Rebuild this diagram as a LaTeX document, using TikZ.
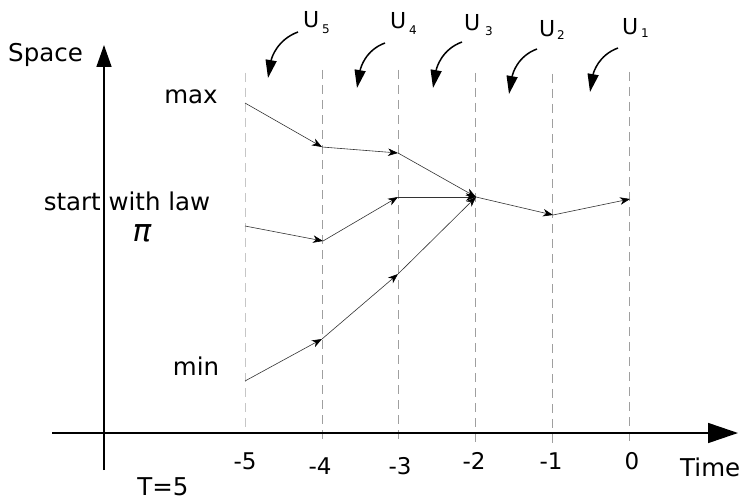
\documentclass[tikz,border=0pt]{standalone}
\usepackage{fontspec}
\setmainfont{DejaVu Sans}
\usetikzlibrary{arrows.meta}
\begin{document}
\begin{tikzpicture}[x=1pt,y=-1pt,
  lbl/.style={inner sep=0pt,anchor=base,font=\fontsize{24.5}{28}\selectfont},
  ulbl/.style={inner sep=0pt,anchor=base west,font=\fontsize{22}{26}\selectfont},
  usub/.style={inner sep=0pt,anchor=base west,font=\fontsize{12}{14}\selectfont},
  axis/.style={line width=1.6pt,black},
  guide/.style={gray!75,line width=0.8pt,dash pattern=on 9pt off 6pt},
  seg/.style={gray!40!black,line width=0.6pt,-{Stealth[length=10pt,width=7.5pt,inset=3pt,black]}},
  curvarrow/.style={line width=1.5pt,-{Triangle[length=18pt,width=11pt]}}]
\useasboundingbox (0,0) rectangle (743,500);
% guides
\foreach \n/\x/\t/\b in {g5/245/73/432,g4/322/70/444,g3/398/70/444,g2/475/73/444,g1/552/74/444,g0/629/72/444}{
  \coordinate (\n t) at (\x,\t);
  \coordinate (\n b) at (\x,\b);
  \draw[guide] (\n t) -- (\n b);
}
\draw[guide,gray!45] (g5t) -- (g5b);
% axes
\coordinate (vb) at (104,470);
\coordinate (vt) at (104,45);
\coordinate (hl) at (52,433);
\coordinate (hr) at (738,433);
\draw[axis,-{Triangle[length=22pt,width=15pt]}] (vb) -- (vt);
\draw[axis,-{Triangle[length=30pt,width=20pt]}] (hl) -- (hr);
% points
\coordinate (A0) at (245,103);
\coordinate (A1) at (322,147);
\coordinate (A2) at (398,153);
\coordinate (C) at (476,197);
\coordinate (D) at (553,215);
\coordinate (E) at (630,199);
\coordinate (B0) at (245,226);
\coordinate (B1) at (323,241);
\coordinate (B2) at (398,197);
\coordinate (M0) at (245,381);
\coordinate (M1) at (322,339);
\coordinate (M2) at (398,274);
\draw[seg] (A0) -- (A1);
\draw[seg] (A1) -- (A2);
\draw[seg] (A2) -- (C);
\draw[seg] (C) -- (D);
\draw[seg] (D) -- (E);
\draw[seg] (B0) -- (B1);
\draw[seg] (B1) -- (B2);
\draw[seg] (B2) -- (C);
\draw[seg] (M0) -- (M1);
\draw[seg] (M1) -- (M2);
\draw[seg] (M2) -- (C);
% curved arrows
\foreach \n/\sx/\sy/\ex/\ey in {c5/298/32/268/78,c4/385/43/357/88,c3/462/42/433/88,c2/537/49/509/94,c1/618/48/590/92}{
  \coordinate (\n s) at (\sx,\sy);
  \coordinate (\n e) at (\ex,\ey);
  \draw[curvarrow] (\n s) to[out=200,in=80] (\n e);
}
% U labels
\node[ulbl] (u5) at (303,28) {U};
\node[usub] (u5s) at (322,34) {5};
\node[ulbl] (u4) at (390,29) {U};
\node[usub] (u4s) at (409,35) {4};
\node[ulbl] (u3) at (464,31) {U};
\node[usub] (u3s) at (485,36) {3};
\node[ulbl] (u2) at (539,37) {U};
\node[usub] (u2s) at (557,40) {2};
\node[ulbl] (u1) at (622,35) {U};
\node[usub] (u1s) at (641,38) {1};
% texts
\node[lbl,anchor=base west] (space) at (8,62) {Space};
\node[lbl] (max) at (191,103) {max};
\node[lbl] (law) at (127,210) {start with law};
\node[lbl,font=\fontsize{31}{34}\selectfont\itshape] (pi) at (142,241) {π};
\node[lbl] (min) at (196,375) {min};
\node[lbl,font=\fontsize{23}{26}\selectfont] (t5) at (245,469) {-5};
\node[lbl,font=\fontsize{23}{26}\selectfont] (t4) at (320,474) {-4};
\node[lbl,font=\fontsize{23}{26}\selectfont] (t3) at (400,474) {-3};
\node[lbl,font=\fontsize{23}{26}\selectfont] (t2) at (474,469) {-2};
\node[lbl,font=\fontsize{23}{26}\selectfont] (t1) at (551,469) {-1};
\node[lbl,font=\fontsize{23}{26}\selectfont] (t0) at (632,469) {0};
\node[lbl,anchor=base west] (time) at (680,476) {Time};
\node[lbl] (T) at (163,495) {T=5};
\end{tikzpicture}
\end{document}
